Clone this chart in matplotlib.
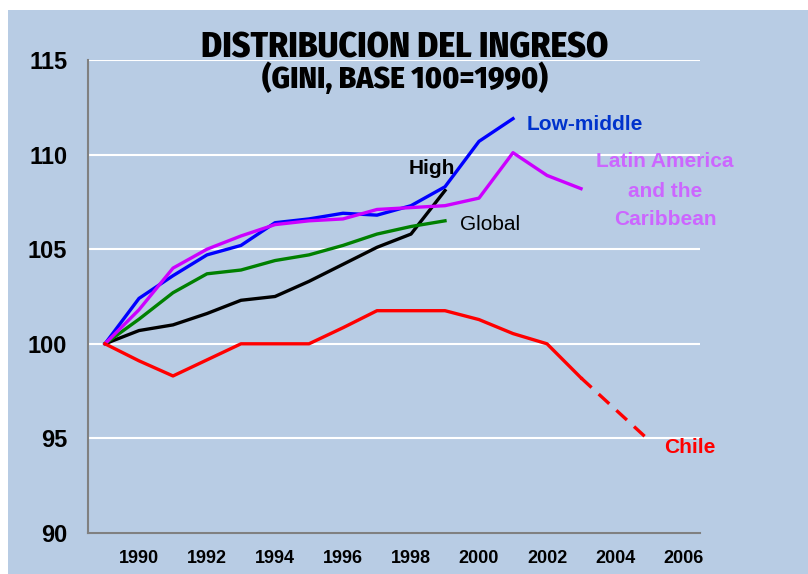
import matplotlib
matplotlib.use("Agg")
import matplotlib.pyplot as plt
from matplotlib.patches import Rectangle
from matplotlib import font_manager as fm
from matplotlib.textpath import TextPath

# ---- data ----
low_middle_years = list(range(1989, 2002))
low_middle = [100, 102.4, 103.6, 104.7, 105.2, 106.4, 106.6, 106.9, 106.8, 107.3, 108.3, 110.7, 111.9]
lac_years = list(range(1989, 2004))
lac = [100, 101.8, 104.0, 105.0, 105.7, 106.3, 106.5, 106.6, 107.1, 107.2, 107.3, 107.7, 110.1, 108.9, 108.2]
global_years = list(range(1989, 2000))
global_ = [100, 101.3, 102.7, 103.7, 103.9, 104.4, 104.7, 105.2, 105.8, 106.2, 106.5]
high_years = list(range(1989, 2000))
high = [100, 100.7, 101.0, 101.6, 102.3, 102.5, 103.3, 104.2, 105.1, 105.8, 108.1]
chile_years = list(range(1989, 2004))
chile = [100, 99.1, 98.3, 99.15, 100.0, 100.0, 100.0, 100.85, 101.75, 101.75, 101.75, 101.28, 100.54, 100.0, 98.2]
chile_proj_years = [2003, 2005]
chile_proj = [98.2, 94.9]

x_ticks = list(range(1990, 2007, 2))
y_ticks = [90, 95, 100, 105, 110, 115]

title = "DISTRIBUCION DEL INGRESO"
subtitle = "(GINI, BASE 100=1990)"


def bold_font_candidates():
    """Installed bold sans fonts (narrow/condensed ones plus Liberation Sans Bold)."""
    out = []
    seen = set()
    for f in fm.fontManager.ttflist:
        name = (f.name + " " + f.fname).lower()
        w = f.weight if isinstance(f.weight, int) else {"bold": 700, "heavy": 800, "black": 900,
                                                          "semibold": 600, "demibold": 600}.get(str(f.weight), 400)
        if not (650 <= w <= 800) or f.style != "normal":
            continue
        if "italic" in name or "oblique" in name or "mono" in name or "serif" in f.name.lower():
            continue
        if "cjk" in name:
            continue
        narrow = ("narrow" in name or "condensed" in name or
                  str(f.stretch) in ("condensed", "semi-condensed", "extra-condensed"))
        if narrow or f.name == "Liberation Sans":
            if f.fname not in seen:
                seen.add(f.fname)
                out.append(f.fname)
    return out


def ink_size(s, fp, size=100):
    ext = TextPath((0, 0), s, prop=fp, size=size).get_extents()
    return ext.width, ext.height


def pick_title_font(s, target_w, target_h):
    best = None
    target = target_h / target_w
    for fname in bold_font_candidates():
        try:
            fp = fm.FontProperties(fname=fname)
            w, h = ink_size(s.replace("(", "").replace(")", ""), fp)
        except Exception:
            continue
        if w <= 0:
            continue
        score = abs(h / w - target)
        if best is None or score < best[0]:
            best = (score, fp)
    return None if best is None else best[1]


# ---- figure ----
W, H = 808, 574
fig = plt.figure(figsize=(W / 100, H / 100), dpi=100)
fig.patch.set_facecolor("white")
bg = "#B8CCE4"
fig.add_artist(Rectangle((8 / W, 0), 1 - 8 / W, 1 - 10 / H, transform=fig.transFigure,
                         facecolor=bg, edgecolor="none", zorder=-10))

ax = fig.add_axes([88 / W, (H - 533) / H, 612 / W, 473 / H])
ax.set_facecolor("none")
ax.set_xlim(1988.5, 2006.5)
ax.set_ylim(90, 115)

lw = 2.4
ax.plot(high_years, high, color="black", lw=lw, zorder=3)
ax.plot(global_years, global_, color="#008000", lw=lw, zorder=3)
ax.plot(low_middle_years, low_middle, color="#0000FF", lw=lw, zorder=4)
ax.plot(lac_years, lac, color="#CC00FF", lw=lw, zorder=5)
ax.plot(chile_years, chile, color="#FF0000", lw=lw, zorder=5)
ax.plot(chile_proj_years, chile_proj, color="#FF0000", lw=lw, zorder=5,
        dashes=(4.3, 2.9))

tick_font = ["Liberation Sans", "DejaVu Sans"]
ax.set_xticks(x_ticks)
ax.set_xticklabels([str(v) for v in x_ticks], fontsize=13, fontweight="bold", family=tick_font)
ax.set_yticks(y_ticks)
ax.set_yticklabels([str(v) for v in y_ticks], fontsize=17, fontweight="bold", family=tick_font)
ax.tick_params(axis="both", length=0)
ax.tick_params(axis="x", pad=12)
ax.tick_params(axis="y", pad=15)

ax.yaxis.grid(True, color="white", lw=1.5)
ax.set_axisbelow(True)
for s in ["top", "right"]:
    ax.spines[s].set_visible(False)
for s in ["left", "bottom"]:
    ax.spines[s].set_color("#808080")
    ax.spines[s].set_linewidth(1.5)

lab_font = ["Liberation Sans", "DejaVu Sans"]
ax.text(2001.41, 111.30, "Low-middle", color="#0033CC", fontsize=15, fontweight="bold",
        ha="left", va="baseline", family=lab_font, clip_on=False)
ax.text(1997.94, 108.97, "High", color="black", fontsize=15, fontweight="bold",
        ha="left", va="baseline", family=lab_font, clip_on=False)
ax.text(1999.44, 106.01, "Global", color="black", fontsize=15,
        ha="left", va="baseline", family=lab_font, clip_on=False)
for txt, yb in [("Latin America", 109.36), ("and the", 107.77), ("Caribbean", 106.28)]:
    ax.text(2005.47, yb, txt, color="#CC66FF", fontsize=15, fontweight="bold",
            ha="center", va="baseline", family=lab_font, clip_on=False)
ax.text(2005.44, 94.23, "Chile", color="#FF0000", fontsize=15, fontweight="bold",
        ha="left", va="baseline", family=lab_font, clip_on=False)

# ---- titles: bold font whose proportions best match, sized to the reference width ----
fp = pick_title_font(title, 405, 26)


def fitted_text(s, y_px, width_px, start_size):
    if fp is not None:
        w100, _ = ink_size(s, fp, 100)
        size_px = 100 * width_px / w100
        size_pt = size_px * 72 / 100
        fig.text(405 / W, 1 - y_px / H, s, fontproperties=fp.copy(), fontsize=size_pt,
                 ha="center", va="baseline")
    else:
        fig.text(405 / W, 1 - y_px / H, s, fontweight="bold", family=tick_font,
                 fontsize=start_size, ha="center", va="baseline")


fitted_text(title, 58, 405, 20.5)
fitted_text(subtitle, 88, 286, 18.5)

fig.savefig("out.png", dpi=100, facecolor=fig.get_facecolor())
